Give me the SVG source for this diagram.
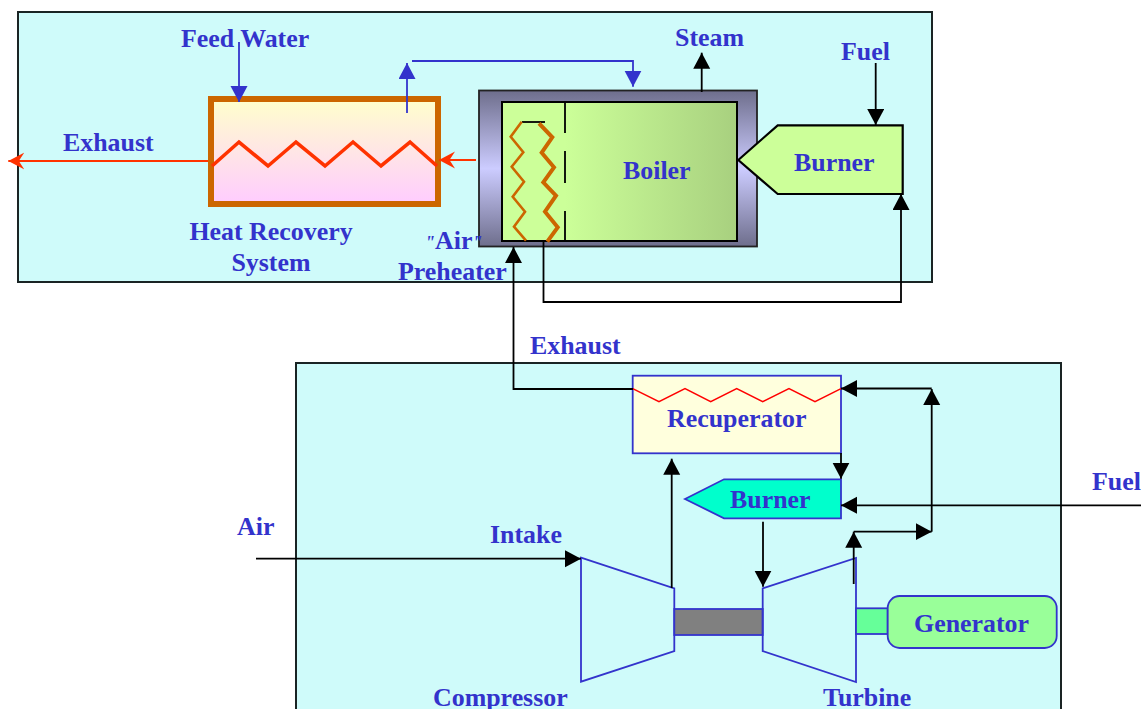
<svg xmlns="http://www.w3.org/2000/svg" width="1141" height="709" viewBox="0 0 1141 709">
<style>
text{font-family:"Liberation Serif","Times New Roman",serif;font-weight:bold;font-size:25.9px;fill:#3333CC}
.m{text-anchor:middle}
.q{font-size:18px;font-style:italic}
.panel{fill:#CFFBFA;stroke:#1A2424;stroke-width:2}
.blue{fill:none;stroke:#3333CC;stroke-width:1.8}
.k{fill:none;stroke:#000;stroke-width:1.8}
.bl{fill:none;stroke:#3333CC;stroke-width:1.8}
.r{fill:none;stroke:#FF3300;stroke-width:1.8}
.ka{marker-end:url(#ka)}
.ba{marker-end:url(#ba)}
.ra{marker-end:url(#ra)}
</style>
<defs>
<marker id="ka" markerUnits="userSpaceOnUse" markerWidth="18" markerHeight="18" refX="16" refY="8.5" orient="auto"><path d="M0 0L16 8.5L0 17Z" fill="#000"/></marker>
<marker id="ba" markerUnits="userSpaceOnUse" markerWidth="18" markerHeight="18" refX="16" refY="8.5" orient="auto"><path d="M0 0L16 8.5L0 17Z" fill="#3333CC"/></marker>
<marker id="ra" markerUnits="userSpaceOnUse" markerWidth="18" markerHeight="18" refX="16" refY="8.5" orient="auto"><path d="M0 0L16 8.5L0 17L5.5 8.5Z" fill="#FF3300"/></marker>
<linearGradient id="hrs" x1="0" y1="0" x2="0" y2="1"><stop offset="0" stop-color="#FFFFCC"/><stop offset="1" stop-color="#FFCCFF"/></linearGradient>
<linearGradient id="wall" x1="0" y1="0" x2="0" y2="1"><stop offset="0" stop-color="#6E6E8C"/><stop offset=".5" stop-color="#CCCCFF"/><stop offset="1" stop-color="#6E6E8C"/></linearGradient>
<linearGradient id="core" x1="0" y1="0" x2="1" y2="0"><stop offset="0" stop-color="#CCFF99"/><stop offset="1" stop-color="#A8D07F"/></linearGradient>
</defs>
<rect id="panel-top" class="panel" x="18" y="12" width="914" height="270"/>
<rect id="panel-bottom" class="panel" x="296" y="363" width="765" height="360"/>

<g id="heat-recovery">
<rect x="211" y="99" width="227" height="105" fill="url(#hrs)" stroke="#CC6600" stroke-width="6"/>
<path d="M212 166L239 142L268 166L296 142L325 166L353 142L381 166L410 142L437 166" fill="none" stroke="#FF3300" stroke-width="3.6"/>
<text class="m" x="271" y="240">Heat Recovery</text>
<text class="m" x="271" y="271">System</text>
</g>

<g id="boiler">
<rect x="479" y="90.5" width="278" height="156" fill="url(#wall)" stroke="#222" stroke-width="1.8"/>
<rect x="502" y="102" width="235" height="139" fill="#CCFF99"/>
<rect x="565" y="102" width="172" height="139" fill="url(#core)"/>
<rect x="502" y="102" width="235" height="139" fill="none" stroke="#000" stroke-width="2"/>
<path d="M565 102V133M565 151V183M565 211V242" class="k"/>
<path d="M522 122H545" class="k"/>
<path d="M521.7 121.7L510.7 136.7L523.3 152.3L511.7 166.7L524 181.7L512.7 196.7L525 211.7L514 226.7L526 240.7" fill="none" stroke="#CC6600" stroke-width="2.6"/>
<path d="M539 123.3L552.3 137.3L541.7 152.7L554 167.3L543.3 182.3L556 195.7L545 211.7L557.7 227.3L547.3 241.7" fill="none" stroke="#CC6600" stroke-width="4"/>
<text x="623" y="178.7">Boiler</text>
</g>

<g id="boiler-burner">
<path d="M738.3 160L777.7 125.3H902.7V194H777.7Z" fill="#CCFF99" stroke="#000" stroke-width="2.2"/>
<text x="794" y="170.7">Burner</text>
</g>

<g id="recuperator">
<rect x="632.7" y="375.7" width="208.3" height="77.6" fill="#FFFFDD" stroke="#3333CC" stroke-width="1.8"/>
<path d="M632.7 388.7L659 401.7L685 388.7L710.7 401.7L736.7 388.7L762.7 401.7L789 388.7L815 401.7L841 388.7" fill="none" stroke="#FF0000" stroke-width="1.5"/>
<text x="667" y="426.7">Recuperator</text>
</g>

<g id="turbine-burner">
<path d="M685 499L724 479.3H841V518.3H724Z" fill="#00FFCC" stroke="#3333CC" stroke-width="1.8"/>
<text x="730" y="507.7">Burner</text>
</g>

<g id="compressor">
<path d="M581 557.7L674.3 588.3V651L581 681.7Z" class="blue"/>
<text x="433" y="706">Compressor</text>
</g>

<g id="shaft">
<rect x="674.3" y="609" width="88.4" height="26" fill="#808080" stroke="#3333CC" stroke-width="1.8"/>
</g>

<g id="turbine">
<path d="M762.7 588.3L856 558V682L762.7 651Z" class="blue"/>
<text x="823" y="705.7">Turbine</text>
</g>

<g id="coupling">
<rect x="856" y="608.3" width="31.7" height="25.7" fill="#66FF99" stroke="#3333CC" stroke-width="1.8"/>
</g>

<g id="generator">
<rect x="887.7" y="596" width="169" height="52" rx="12" fill="#99FF99" stroke="#3333CC" stroke-width="1.8"/>
<text x="914" y="631.7">Generator</text>
</g>

<g id="connectors">
<path class="r ra" d="M208 161H8.3"/>
<path class="r ra" d="M476 160H439"/>
<path class="bl ba" d="M239 42V102"/>
<path class="bl ba" d="M407 113V63"/>
<path class="bl ba" d="M412 61H633V86.7"/>
<path class="k ka" d="M701.7 92V52.7"/>
<path class="k ka" d="M875.7 63V125"/>
<path class="k ka" d="M543.5 241V302H901V194"/>
<path class="k ka" d="M633 389H513.5V247"/>
<path class="k ka" d="M931.7 388.5H841"/>
<path class="k ka" d="M931.7 531.7V389"/>
<path class="k ka" d="M853.7 584V531.7"/>
<path class="k ka" d="M853.7 531.7H931.7"/>
<path class="k ka" d="M841 453V478.7"/>
<path class="k ka" d="M1141 505.3H841"/>
<path class="k ka" d="M763 521.7V586.7"/>
<path class="k ka" d="M671.7 588V458.7"/>
<path class="k ka" d="M256 558.7H581"/>
</g>

<g id="labels">
<text x="181" y="47">Feed Water</text>
<text x="63" y="150.7">Exhaust</text>
<text x="675" y="46">Steam</text>
<text x="841" y="60">Fuel</text>
<text x="425" y="249"><tspan class="q">"</tspan>Air<tspan class="q">"</tspan></text>
<text x="398" y="279.5">Preheater</text>
<text x="530" y="354">Exhaust</text>
<text x="1092" y="490">Fuel</text>
<text x="237" y="535">Air</text>
<text x="490" y="543">Intake</text>
</g>
</svg>
